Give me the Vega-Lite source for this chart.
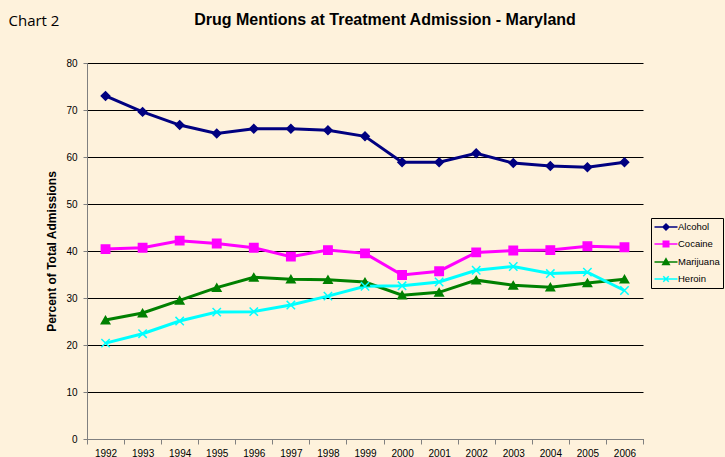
{
  "$schema": "https://vega.github.io/schema/vega-lite/v6.json",
  "width": 556,
  "height": 376,
  "autosize": {"type": "none"},
  "padding": {"left": 87, "top": 63, "right": 82, "bottom": 18},
  "background": "#FEF2DC",
  "title": {
    "text": "Drug Mentions at Treatment Admission - Maryland",
    "font": "Liberation Sans",
    "fontSize": 16,
    "fontWeight": "bold",
    "color": "#000000",
    "anchor": "middle",
    "baseline": "alphabetic",
    "dx": 20,
    "offset": -28
  },
  "data": {
    "values": [
      {"year": "1992", "drug": "Alcohol", "pct": 73.0},
      {"year": "1993", "drug": "Alcohol", "pct": 69.6},
      {"year": "1994", "drug": "Alcohol", "pct": 66.8},
      {"year": "1995", "drug": "Alcohol", "pct": 65.0},
      {"year": "1996", "drug": "Alcohol", "pct": 66.0},
      {"year": "1997", "drug": "Alcohol", "pct": 66.0},
      {"year": "1998", "drug": "Alcohol", "pct": 65.7},
      {"year": "1999", "drug": "Alcohol", "pct": 64.4},
      {"year": "2000", "drug": "Alcohol", "pct": 58.9},
      {"year": "2001", "drug": "Alcohol", "pct": 58.9},
      {"year": "2002", "drug": "Alcohol", "pct": 60.8},
      {"year": "2003", "drug": "Alcohol", "pct": 58.7},
      {"year": "2004", "drug": "Alcohol", "pct": 58.1},
      {"year": "2005", "drug": "Alcohol", "pct": 57.8},
      {"year": "2006", "drug": "Alcohol", "pct": 58.9},
      {"year": "1992", "drug": "Cocaine", "pct": 40.4},
      {"year": "1993", "drug": "Cocaine", "pct": 40.7},
      {"year": "1994", "drug": "Cocaine", "pct": 42.2},
      {"year": "1995", "drug": "Cocaine", "pct": 41.6},
      {"year": "1996", "drug": "Cocaine", "pct": 40.7},
      {"year": "1997", "drug": "Cocaine", "pct": 38.8},
      {"year": "1998", "drug": "Cocaine", "pct": 40.2},
      {"year": "1999", "drug": "Cocaine", "pct": 39.5},
      {"year": "2000", "drug": "Cocaine", "pct": 34.9},
      {"year": "2001", "drug": "Cocaine", "pct": 35.7},
      {"year": "2002", "drug": "Cocaine", "pct": 39.7},
      {"year": "2003", "drug": "Cocaine", "pct": 40.1},
      {"year": "2004", "drug": "Cocaine", "pct": 40.2},
      {"year": "2005", "drug": "Cocaine", "pct": 41.0},
      {"year": "2006", "drug": "Cocaine", "pct": 40.8},
      {"year": "1992", "drug": "Marijuana", "pct": 25.3},
      {"year": "1993", "drug": "Marijuana", "pct": 26.8},
      {"year": "1994", "drug": "Marijuana", "pct": 29.5},
      {"year": "1995", "drug": "Marijuana", "pct": 32.2},
      {"year": "1996", "drug": "Marijuana", "pct": 34.4},
      {"year": "1997", "drug": "Marijuana", "pct": 34.0},
      {"year": "1998", "drug": "Marijuana", "pct": 33.9},
      {"year": "1999", "drug": "Marijuana", "pct": 33.4},
      {"year": "2000", "drug": "Marijuana", "pct": 30.6},
      {"year": "2001", "drug": "Marijuana", "pct": 31.2},
      {"year": "2002", "drug": "Marijuana", "pct": 33.8},
      {"year": "2003", "drug": "Marijuana", "pct": 32.7},
      {"year": "2004", "drug": "Marijuana", "pct": 32.3},
      {"year": "2005", "drug": "Marijuana", "pct": 33.2},
      {"year": "2006", "drug": "Marijuana", "pct": 34.0},
      {"year": "1992", "drug": "Heroin", "pct": 20.4},
      {"year": "1993", "drug": "Heroin", "pct": 22.4},
      {"year": "1994", "drug": "Heroin", "pct": 25.1},
      {"year": "1995", "drug": "Heroin", "pct": 27.0},
      {"year": "1996", "drug": "Heroin", "pct": 27.1},
      {"year": "1997", "drug": "Heroin", "pct": 28.5},
      {"year": "1998", "drug": "Heroin", "pct": 30.4},
      {"year": "1999", "drug": "Heroin", "pct": 32.5},
      {"year": "2000", "drug": "Heroin", "pct": 32.6},
      {"year": "2001", "drug": "Heroin", "pct": 33.4},
      {"year": "2002", "drug": "Heroin", "pct": 35.9},
      {"year": "2003", "drug": "Heroin", "pct": 36.7},
      {"year": "2004", "drug": "Heroin", "pct": 35.2},
      {"year": "2005", "drug": "Heroin", "pct": 35.5},
      {"year": "2006", "drug": "Heroin", "pct": 31.6}
    ]
  },
  "encoding": {
    "x": {
      "field": "year",
      "type": "ordinal",
      "bandPosition": 0.5,
      "scale": {"type": "band", "paddingInner": 0, "paddingOuter": 0},
      "axis": {
        "title": "Chart 2",
        "titleX": -79,
        "titleY": -414,
        "titleAngle": 0,
        "titleAlign": "left",
        "titleBaseline": "alphabetic",
        "titleFont": "Open Sans",
        "titleFontSize": 15,
        "titleFontWeight": "normal",
        "titleColor": "#000000",
        "labelAngle": 0,
        "tickBand": "extent",
        "tickSize": 5,
        "labelPadding": 4,
        "domainColor": "#808080",
        "tickColor": "#808080",
        "labelFont": "Liberation Sans",
        "labelFontSize": 10,
        "labelColor": "#000000",
        "grid": false
      }
    },
    "y": {
      "field": "pct",
      "type": "quantitative",
      "scale": {"domain": [0, 80], "nice": false},
      "axis": {
        "title": "Percent of Total Admissions",
        "titleFont": "Liberation Sans",
        "titleFontSize": 12,
        "titleFontWeight": "bold",
        "titleColor": "#000000",
        "titlePadding": 7,
        "values": [0, 10, 20, 30, 40, 50, 60, 70, 80],
        "grid": true,
        "gridColor": "#000000",
        "gridWidth": 1,
        "domainColor": "#808080",
        "tickColor": "#808080",
        "tickSize": 4,
        "labelPadding": 6,
        "labelFont": "Liberation Sans",
        "labelFontSize": 10,
        "labelColor": "#000000"
      }
    },
    "color": {
      "field": "drug",
      "type": "nominal",
      "scale": {
        "domain": ["Alcohol", "Cocaine", "Marijuana", "Heroin"],
        "range": ["#000080", "#FF00FF", "#008000", "#00FFFF"]
      },
      "legend": {
        "title": null,
        "orient": "none",
        "legendX": 564,
        "legendY": 155,
        "fillColor": "#FEF2DC",
        "strokeColor": "#000000",
        "padding": 3,
        "labelFont": "Liberation Sans",
        "labelFontSize": 9.5,
        "labelColor": "#000000",
        "symbolSize": 100,
        "symbolOffset": 6,
        "labelOffset": 6,
        "rowPadding": 5,
        "encode": {
          "symbols": {
            "update": {
              "shape": {"signal": "datum.value === 'Alcohol' ? 'M-2.3,0H2.3M0,-0.6L0.6,0L0,0.6L-0.6,0Z' : datum.value === 'Cocaine' ? 'M-2.3,0H2.3M-0.55,-0.55H0.55V0.55H-0.55Z' : datum.value === 'Marijuana' ? 'M-2.3,0H2.3M0,-0.65L0.65,0.5H-0.65Z' : 'M-2.3,0H2.3M-0.55,-0.55L0.55,0.55M-0.55,0.55L0.55,-0.55'"},
              "stroke": {"signal": "scale('color', datum.value)"},
              "fill": {"signal": "scale('color', datum.value)"},
              "strokeWidth": {"value": 1.5},
              "opacity": {"value": 1}
            }
          }
        }
      }
    }
  },
  "layer": [
    {
      "mark": {"type": "line", "strokeWidth": 3}
    },
    {
      "mark": {"type": "point", "filled": true, "size": 70, "strokeWidth": 1.5, "opacity": 1},
      "encoding": {
        "stroke": {
          "field": "drug",
          "type": "nominal",
          "scale": {
            "domain": ["Heroin", "Alcohol", "Cocaine", "Marijuana"],
            "range": ["#00FFFF", "#000080", "#FF00FF", "#008000"]
          },
          "legend": null
        },
        "shape": {
          "field": "drug",
          "type": "nominal",
          "scale": {
            "domain": ["Heroin", "Alcohol", "Cocaine", "Marijuana"],
            "range": ["M-1,-1L1,1M-1,1L1,-1", "diamond", "square", "triangle-up"]
          },
          "legend": null
        }
      }
    }
  ],
  "config": {"view": {"stroke": null}}
}
